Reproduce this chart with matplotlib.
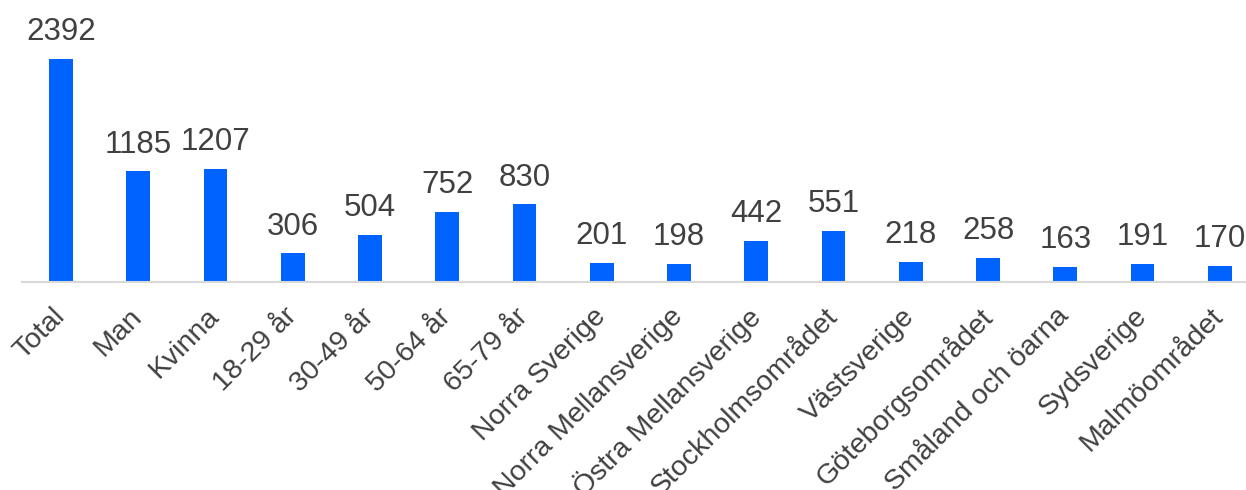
import matplotlib
matplotlib.use("Agg")
import matplotlib.pyplot as plt
import numpy as np

plt.rcParams['font.family'] = ['Liberation Sans', 'DejaVu Sans']

categories = ["Total", "Man", "Kvinna", "18-29 år", "30-49 år", "50-64 år",
              "65-79 år", "Norra Sverige", "Norra Mellansverige",
              "Östra Mellansverige", "Stockholmsområdet", "Västsverige",
              "Göteborgsområdet", "Småland och öarna", "Sydsverige",
              "Malmöområdet"]
values = [2392, 1185, 1207, 306, 504, 752, 830, 201, 198, 442, 551, 218,
          258, 163, 191, 170]

fig = plt.figure(figsize=(12.46, 4.90), dpi=100)
ax = fig.add_axes([22.4 / 1246, 1 - 282 / 490, 1236 / 1246, 282 / 490])

x = np.arange(len(categories))
bars = ax.bar(x, values, width=0.31, color='#0062FF', zorder=2)

for xi, v in zip(x, values):
    ax.annotate(str(v), (xi, v), xytext=(0, 8.5), textcoords='offset points',
                ha='center', va='bottom', fontsize=22.5, color='#404040')

ax.set_xlim(-0.5, len(categories) - 0.5)
ax.set_ylim(0, 3019)
ax.set_xticks(x)
ax.set_xticklabels(categories, rotation=45, ha='right', va='center',
                   rotation_mode='anchor', fontsize=20.5, color='#404040')
ax.tick_params(axis='x', length=0, pad=22)
ax.set_yticks([])
for s in ['top', 'right', 'left']:
    ax.spines[s].set_visible(False)
ax.spines['bottom'].set_color('#D9D9D9')
ax.spines['bottom'].set_linewidth(1.5)

fig.savefig('out.png', dpi=100)
